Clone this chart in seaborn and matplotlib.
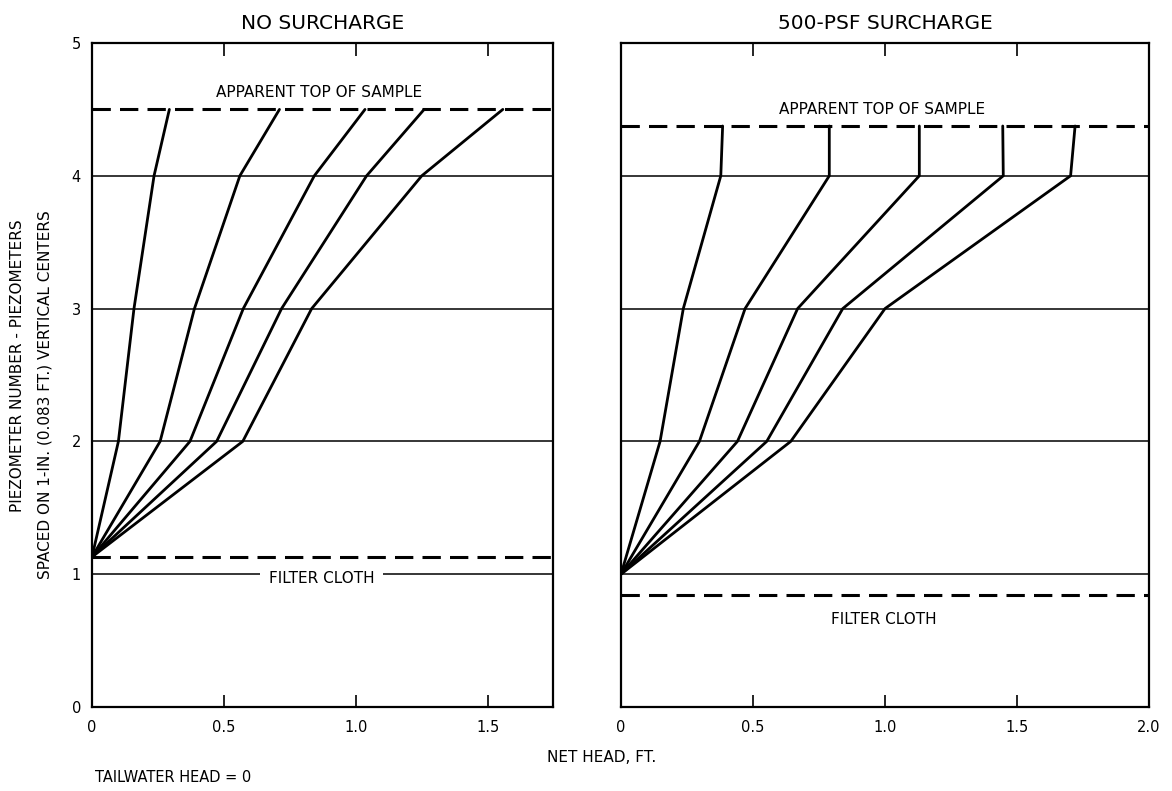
import matplotlib
matplotlib.use("Agg")
import matplotlib.pyplot as plt
import seaborn as sns
import pandas as pd

# Piezometer levels (y) and net head readings (x) for five runs per test
left_levels = [1.13, 2, 3, 4, 4.5]
left_heads = [
    [0, 0.100, 0.159, 0.235, 0.293],
    [0, 0.258, 0.388, 0.560, 0.710],
    [0, 0.371, 0.573, 0.842, 1.034],
    [0, 0.472, 0.718, 1.040, 1.258],
    [0, 0.571, 0.832, 1.249, 1.556],
]

right_levels = [1, 2, 3, 4, 4.375]
right_heads = [
    [0, 0.148, 0.236, 0.378, 0.385],
    [0, 0.297, 0.470, 0.789, 0.789],
    [0, 0.441, 0.669, 1.130, 1.130],
    [0, 0.552, 0.840, 1.448, 1.446],
    [0, 0.643, 1.000, 1.703, 1.720],
]

run_names = ["A", "B", "C", "D", "E"]

left_top, left_cloth_dash = 4.5, 1.13
right_top, right_cloth_dash = 4.375, 0.84

left_xticks = [0, 0.5, 1.0, 1.5]
left_xticklabels = ["0", "0.5", "1.0", "1.5"]
right_xticks = [0, 0.5, 1.0, 1.5, 2.0]
right_xticklabels = ["0", "0.5", "1.0", "1.5", "2.0"]
yticks = [0, 1, 2, 3, 4, 5]

sns.set_style("white")
plt.rcParams["font.family"] = ["DejaVu Sans"]
plt.rcParams["text.color"] = "black"
plt.rcParams["axes.labelcolor"] = "black"
plt.rcParams["axes.titlecolor"] = "black"
plt.rcParams["xtick.color"] = "black"
plt.rcParams["ytick.color"] = "black"


def long_form(levels, heads):
    rows = []
    for name, xs in zip(run_names, heads):
        for x, y in zip(xs, levels):
            rows.append({"run": name, "head": x, "level": y})
    return pd.DataFrame(rows)


fig = plt.figure(figsize=(11.72, 7.91), dpi=100)
axL = fig.add_axes([92 / 1172, 1 - 707 / 791, 461 / 1172, 664 / 791])
axR = fig.add_axes([621 / 1172, 1 - 707 / 791, 528 / 1172, 664 / 791])

black = ["black"] * len(run_names)
dash = (0, (6, 3))

for ax, levels, heads, xmax, top, cloth in [
    (axL, left_levels, left_heads, 1.746, left_top, left_cloth_dash),
    (axR, right_levels, right_heads, 2.0, right_top, right_cloth_dash),
]:
    ax.set_xlim(0, xmax)
    ax.set_ylim(0, 5)
    for lvl in [1, 2, 3, 4]:
        ax.axhline(lvl, color="black", lw=1.1, zorder=1)
    ax.axhline(top, color="black", lw=2.2, linestyle=dash, zorder=1)
    ax.axhline(cloth, color="black", lw=2.2, linestyle=dash, zorder=1)
    df = long_form(levels, heads)
    sns.lineplot(data=df, x="head", y="level", hue="run", palette=black,
                 sort=False, estimator=None, legend=False, lw=2.0, ax=ax, zorder=3)
    ax.set_xlabel("")
    ax.set_ylabel("")
    for s in ax.spines.values():
        s.set_visible(True)
        s.set_color("black")
        s.set_linewidth(1.6)
    ax.tick_params(axis="x", which="both", direction="in", length=9, width=1.2,
                   top=True, bottom=True, labelsize=10.5, pad=9, colors="black")
    ax.tick_params(axis="y", length=0, labelsize=10.5, pad=8, colors="black")

axL.set_xticks(left_xticks)
axL.set_xticklabels(left_xticklabels)
axL.set_yticks(yticks)
axL.set_yticklabels([str(v) for v in yticks])
axR.set_xticks(right_xticks)
axR.set_xticklabels(right_xticklabels)
axR.set_yticks(yticks)
axR.set_yticklabels([])

axL.set_title("NO SURCHARGE", fontsize=14.5, pad=10)
axR.set_title("500-PSF SURCHARGE", fontsize=14.5, pad=10)

axL.text(0.86, 4.63, "APPARENT TOP OF SAMPLE", ha="center", va="center", fontsize=11)
axR.text(0.99, 4.5, "APPARENT TOP OF SAMPLE", ha="center", va="center", fontsize=11)
axL.text(0.87, 0.97, "FILTER CLOTH", ha="center", va="center", fontsize=11, zorder=5,
         bbox=dict(facecolor="white", edgecolor="none", pad=6))
axR.text(0.996, 0.66, "FILTER CLOTH", ha="center", va="center", fontsize=11)

fig.text(18 / 1172, 1 - 366 / 791, "PIEZOMETER NUMBER - PIEZOMETERS",
         rotation=90, ha="center", va="center", fontsize=11)
fig.text(45 / 1172, 1 - 395 / 791, "SPACED ON 1-IN. (0.083 FT.) VERTICAL CENTERS",
         rotation=90, ha="center", va="center", fontsize=11)
fig.text(602 / 1172, 1 - 757 / 791, "NET HEAD, FT.", ha="center", va="center", fontsize=11)
fig.text(95 / 1172, 1 - 777 / 791, "TAILWATER HEAD = 0", ha="left", va="center", fontsize=10.5)

fig.savefig("out.png", dpi=100, facecolor="white")
